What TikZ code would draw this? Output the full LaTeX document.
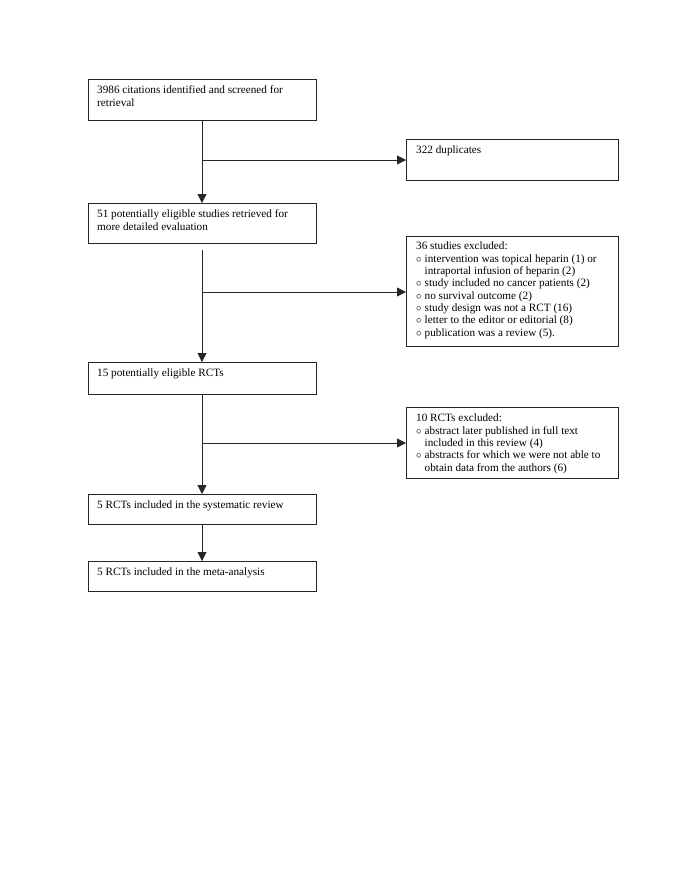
\documentclass[tikz,border=0pt]{standalone}
\usepackage{fontspec}
\setmainfont{Liberation Serif}
\usetikzlibrary{arrows.meta}
\newcommand{\bul}{\makebox[8.5pt][l]{$\circ$}}
\newcommand{\ind}{\hspace*{8.5pt}}
\begin{document}
\begin{tikzpicture}[x=1pt,y=-1pt,
  box/.style={draw=black!85, line width=0.8pt, anchor=north west, inner sep=0pt, outer sep=0pt},
  txt/.style={anchor=north west, inner sep=0pt, align=left, font=\fontsize{11.2}{12.35}\selectfont},
  conn/.style={draw=black!85, line width=0.8pt},
  arr/.style={conn, -{Triangle[length=9pt,width=9pt]}}]
\useasboundingbox[fill=white] (0,0) rectangle (685,887);
% boxes
\node[box, minimum width=228pt, minimum height=41pt] (b1) at (88,79) {};
\node[box, minimum width=212pt, minimum height=41pt] (dup) at (406,139) {};
\node[box, minimum width=228pt, minimum height=40pt] (b2) at (88,203) {};
\node[box, minimum width=212pt, minimum height=110pt] (ex1) at (406,236) {};
\node[box, minimum width=228pt, minimum height=32pt] (b3) at (88,362) {};
\node[box, minimum width=212pt, minimum height=71pt] (ex2) at (406,407) {};
\node[box, minimum width=228pt, minimum height=30pt] (b4) at (88,494) {};
\node[box, minimum width=228pt, minimum height=30pt] (b5) at (88,561) {};
% texts
\node[txt] (t1) at ([xshift=9pt,yshift=-6pt]b1.north west) {\strut 3986 citations identified and screened for\\retrieval};
\node[txt] (tdup) at ([xshift=10pt,yshift=-6pt]dup.north west) {\strut 322 duplicates};
\node[txt] (t2) at ([xshift=9pt,yshift=-6pt]b2.north west) {\strut 51 potentially eligible studies retrieved for\\more detailed evaluation};
\node[txt] (tex1) at ([xshift=10pt,yshift=-5pt]ex1.north west) {\strut 36 studies excluded:\\
\bul intervention was topical heparin (1) or\\
\ind intraportal infusion of heparin (2)\\
\bul study included no cancer patients (2)\\
\bul no survival outcome (2)\\
\bul study design was not a RCT (16)\\
\bul letter to the editor or editorial (8)\\
\bul publication was a review (5).};
\node[txt] (t3) at ([xshift=9pt,yshift=-6pt]b3.north west) {\strut 15 potentially eligible RCTs};
\node[txt] (tex2) at ([xshift=10pt,yshift=-6pt]ex2.north west) {\strut 10 RCTs excluded:\\
\bul abstract later published in full text\\
\ind included in this review (4)\\
\bul abstracts for which we were not able to\\
\ind obtain data from the authors (6)};
\node[txt] (t4) at ([xshift=9pt,yshift=-6pt]b4.north west) {\strut 5 RCTs included in the systematic review};
\node[txt] (t5) at ([xshift=9pt,yshift=-6pt]b5.north west) {\strut 5 RCTs included in the meta-analysis};
% branch points
\coordinate (j1) at (202,160);
\coordinate (j2) at (202,292);
\coordinate (j3) at (202,443);
% connectors
\draw[arr] (b1.south -| j1) -- (b2.north -| j1);
\draw[arr] (j1) -- (j1 -| dup.west);
\draw[arr, shorten <=7pt] (b2.south -| j2) -- (b3.north -| j2);
\draw[arr] (j2) -- (j2 -| ex1.west);
\draw[arr] (b3.south -| j3) -- (b4.north -| j3);
\draw[arr] (j3) -- (j3 -| ex2.west);
\draw[arr] (b4.south -| j3) -- (b5.north -| j3);
\end{tikzpicture}
\end{document}
